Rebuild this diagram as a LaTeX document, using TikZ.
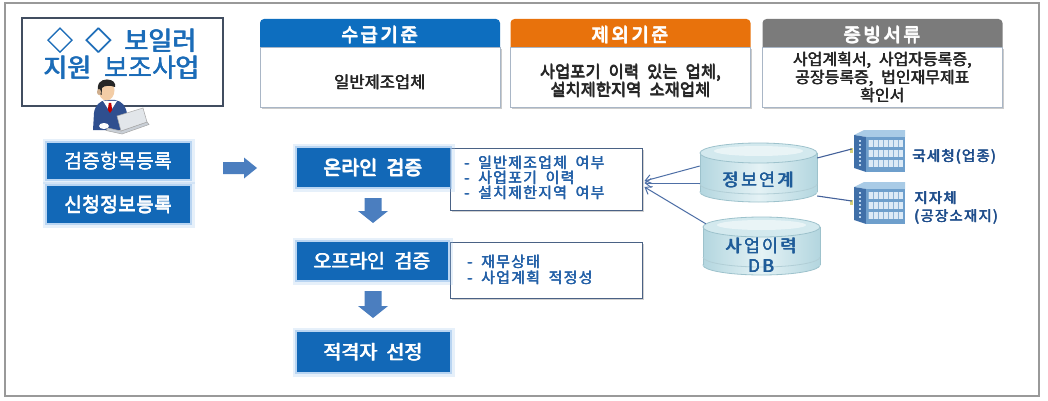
\documentclass[tikz,border=0pt]{standalone}
\usepackage{fontspec}
\setmainfont{Noto Sans CJK KR}
\newfontfamily\krb{Noto Sans CJK KR}
\newfontfamily\krwide{Noto Sans CJK KR}[WordSpace=2.2]
\newfontfamily\krdet{Noto Sans CJK KR}[WordSpace=1.9, LetterSpace=8]
\usetikzlibrary{shadows, arrows.meta}

\newcommand\setfs[2]{\fontsize{#1}{#2}\selectfont}
% heavier strokes: the text is set three times with tiny offsets
\newcommand\hv[1]{\leavevmode\rlap{#1}\rlap{\raisebox{0.45pt}{#1}}\kern0.55pt\relax #1}

\definecolor{boxblue}{HTML}{1268B7}
\definecolor{glowblue}{HTML}{9CC4EE}
\definecolor{hdrblue}{HTML}{0D6EBF}
\definecolor{hdrorange}{HTML}{E8720C}
\definecolor{hdrgrey}{HTML}{7B7B7B}
\definecolor{titleblue}{HTML}{1B6CB8}
\definecolor{titleline}{HTML}{414D60}
\definecolor{bodyline}{HTML}{A9B6C6}
\definecolor{detline}{HTML}{4A6285}
\definecolor{dettext}{HTML}{2461A8}
\definecolor{arrowblue}{HTML}{4B7EBF}
\definecolor{connblue}{HTML}{4E6FA6}
\definecolor{cylside}{HTML}{B3D6DF}
\definecolor{cylmid}{HTML}{E4F2F5}
\definecolor{cyltop}{HTML}{D3E9EE}
\definecolor{cylline}{HTML}{9DC2CC}
\definecolor{cyltext}{HTML}{1F5C99}
\definecolor{labtext}{HTML}{1F4E8C}
\definecolor{suit}{HTML}{2F4F8F}
\definecolor{skin}{HTML}{F3CDA6}
\definecolor{bldtop}{HTML}{A9CBE6}
\definecolor{bldside}{HTML}{3F6FA8}
\definecolor{bldface}{HTML}{6E9FCC}
\definecolor{bldwin}{HTML}{DCEAF6}
\definecolor{bldsep}{HTML}{8DB3D6}
\definecolor{bldspot}{HTML}{B8D3EE}
\definecolor{plug}{HTML}{D9D27A}
\definecolor{lidgrey}{HTML}{E2E6EA}
\definecolor{basegrey}{HTML}{C9CFD6}

\tikzset{
  bluebox/.style={fill=boxblue, text=white, inner sep=0pt,
    font=\krb\setfs{19.5}{22},
    preaction={draw=glowblue, line width=9pt, opacity=0.25},
    preaction={draw=glowblue, line width=4pt, opacity=0.6}},
  hdr/.style={rounded corners=4pt, text=white, inner sep=0pt,
    minimum width=240pt, minimum height=32pt,
    font=\krb\setfs{19}{21}\addfontfeature{LetterSpace=13}},
  bodybox/.style={fill=white, draw=bodyline, line width=0.8pt, inner sep=0pt,
    minimum width=240pt, minimum height=60pt,
    drop shadow={shadow xshift=1.5pt, shadow yshift=-2pt, fill=black!45, opacity=0.45}},
  bodytxt/.style={align=center, text=black!85, inner sep=0pt,
    font=\krwide\setfs{16.5}{18}},
  detbox/.style={fill=white, draw=detline, line width=0.9pt, inner sep=0pt,
    minimum width=192pt,
    drop shadow={shadow xshift=1.5pt, shadow yshift=-2pt, fill=black!45, opacity=0.4}},
  dettxt/.style={align=left, text=dettext, inner sep=0pt, anchor=west,
    font=\krdet\setfs{15}{15}},
  blockarrow/.style={fill=arrowblue},
  conn/.style={draw=connblue, line width=1pt, -{Straight Barb[length=6pt,width=9pt]}},
  wire/.style={draw=suit!90, line width=1.1pt},
  cyltxt/.style={text=cyltext, inner sep=0pt, align=center,
    font=\krb\setfs{17.5}{20}\addfontfeature{LetterSpace=12}},
  labtxt/.style={text=labtext, inner sep=0pt, anchor=west,
    font=\krb\setfs{14.5}{16}\addfontfeature{LetterSpace=8}},
}

% database cylinder: centre, x radius, half height of the body
\newcommand\dbcylinder[4]{%
  \begin{scope}[shift={(#1,#2)}]
    \shade[left color=cylside, right color=cylside, middle color=cylmid, draw=cylline, line width=0.8pt]
      (0,#4) ellipse [x radius=#3, y radius=10];
    \shade[left color=cylside, right color=cylside, middle color=cylmid]
      (-#3,-#4) rectangle (#3,#4);
    \draw[cylline, line width=0.8pt] (-#3,-#4) -- (-#3,#4) (#3,-#4) -- (#3,#4);
    \begin{scope}
      \clip (-#3-2,#4-8) rectangle (#3+2,#4+20);
      \draw[cylline!80, line width=0.8pt] (0,#4-8) ellipse [x radius=#3, y radius=10];
    \end{scope}
    \fill[cyltop, draw=cylline, line width=0.8pt] (0,-#4) ellipse [x radius=#3, y radius=10];
    \fill[white, opacity=0.5] (0,-#4-2) ellipse [x radius=#3-14, y radius=5];
  \end{scope}}

% small office building icon, top left corner given
\newcommand\building[2]{%
  \begin{scope}[shift={(#1,#2)}]
    \fill[bldtop] (2,5) -- (12,0) -- (53,0) -- (53,7) -- (14,7) -- cycle;
    \fill[bldside] (2,5) -- (14,7) -- (14,42) -- (2,38) -- cycle;
    \foreach \k in {0,...,6} \fill[bldspot] (7,10+4*\k) rectangle (9,12+4*\k);
    \fill[bldface] (14,7) rectangle (53,42);
    \foreach \r in {0,1,2} {
      \fill[bldwin] (16,10+10*\r) rectangle (51,17+10*\r);
      \foreach \c in {0,...,6} \draw[bldsep, line width=0.5pt] (16+5*\c,10+10*\r) -- (16+5*\c,17+10*\r);
    }
    \fill[plug] (-2,18) rectangle (1,23);
  \end{scope}}

% downward block arrow: centre x, top y, bottom y
\newcommand\flowdown[3]{%
  \fill[blockarrow] (#1-8.5,#2) -- (#1+8.5,#2) -- (#1+8.5,#3-12) -- (#1+15,#3-12)
    -- (#1,#3) -- (#1-15,#3-12) -- (#1-8.5,#3-12) -- cycle;}

\begin{document}
\begin{tikzpicture}[x=1pt, y=-1pt]
  \useasboundingbox (0,0) rectangle (1048,401);
  \fill[white] (0,0) rectangle (1048,401);
  \draw[black!40, line width=1.2pt] (5,3) rectangle (1039,396);

  % title
  \draw[titleline, line width=2.2pt, fill=white] (22,18) rectangle (223,106);
  \node[text=titleblue, align=center, inner sep=0pt, font=\krb\setfs{26}{27}]
    (title) at (122,53.5) {\hv{◇ ◇ 보일러}\\\hv{지원 보조사업}};

  % person at the laptop
  \begin{scope}
    \fill[suit] (93,130) -- (94,113) .. controls (95,105) and (100,101) .. (106,100)
      -- (115,100) .. controls (122,101) and (126,106) .. (127,114) -- (127,130) -- cycle;
    \fill[white] (103,101) -- (110,112) -- (117,101) -- cycle;
    \fill[red!75!black] (108.8,103) -- (111.2,103) -- (112.2,110) -- (110,113) -- (107.8,110) -- cycle;
    \fill[skin] (106.5,90) ellipse [x radius=8, y radius=10.5];
    \fill[black!85] (98.5,93) .. controls (96,83) and (101,79.5) .. (107,79.5)
      .. controls (113,79.5) and (116,83) .. (115,87) .. controls (110,85) and (104,85.5) .. (102,88)
      -- (101.5,95) -- cycle;
    \fill[skin!85!black] (99,92) ellipse [x radius=2, y radius=3];
    \fill[white] (104,126) ellipse [x radius=5, y radius=3];
    \fill[basegrey, draw=black!35, line width=0.5pt] (108,128) -- (121,131) -- (147,122) -- (149,124.5) -- (122,134) -- (106,130.5) -- cycle;
    \fill[lidgrey, draw=black!35, line width=0.5pt] (117,116) -- (143,108) -- (147,122) -- (121,131) -- cycle;
  \end{scope}

  % criteria panels
  \node[hdr, fill=hdrblue]   (h1) at (380,35)   {\hv{수급기준}};
  \node[hdr, fill=hdrorange] (h2) at (630.5,35) {\hv{제외기준}};
  \node[hdr, fill=hdrgrey]   (h3) at (882.5,35) {\hv{증빙서류}};
  \node[bodybox] (b1) at (380,77.5)   {};
  \node[bodybox] (b2) at (630.5,77.5) {};
  \node[bodybox] (b3) at (882.5,77.5) {};
  \node[bodytxt] (t1) at (380,82.5) {\hv{일반제조업체}};
  \node[bodytxt] (t2) at (630.5,81) {\hv{사업포기 이력 있는 업체,}\\\hv{설치제한지역 소재업체}};
  \node[bodytxt, font=\krwide\setfs{16}{15}]
    (t3) at (882.5,77.5) {\hv{사업계획서, 사업자등록증,}\\\hv{공장등록증, 법인재무제표}\\\hv{확인서}};

  % registration
  \node[bluebox, minimum width=143pt, minimum height=36pt] (reg1) at (118.5,161) {\hv{검증항목등록}};
  \node[bluebox, minimum width=143pt, minimum height=37pt] (reg2) at (118.5,204.5) {\hv{신청정보등록}};
  \fill[blockarrow] (223,162) -- (244,162) -- (244,157.5) -- (257,168) -- (244,178.5)
    -- (244,174) -- (223,174) -- cycle;

  % verification steps
  \node[detbox, minimum height=62pt] (det1) at (546,179) {};
  \node[detbox, minimum height=56pt] (det2) at (546,270) {};
  \node[bluebox, minimum width=153pt, minimum height=39pt] (on)  at (373.5,167.5) {\hv{온라인 검증}};
  \node[bluebox, minimum width=151pt, minimum height=38pt] (off) at (372.5,261) {\hv{오프라인 검증}};
  \node[bluebox, minimum width=153pt, minimum height=40pt] (sel) at (373.5,352) {\hv{적격자 선정}};
  \node[dettxt] (d1) at (464,178)
    {\hv{- 일반제조업체 여부}\\\hv{- 사업포기 이력}\\\hv{- 설치제한지역 여부}};
  \node[dettxt, font=\krdet\setfs{15}{16}]
    (d2) at (467,270) {\hv{- 재무상태}\\\hv{- 사업계획 적정성}};
  \flowdown{373}{198}{223}
  \flowdown{373}{291}{318}

  % data sources
  \dbcylinder{758.5}{172.5}{58.5}{19.5}
  \dbcylinder{761.5}{246}{58.5}{19}
  \node[minimum width=117pt, minimum height=59pt, inner sep=0pt] (link) at (758.5,172.5) {};
  \node[minimum width=117pt, minimum height=58pt, inner sep=0pt] (db) at (761.5,246) {};
  \node[cyltxt] (linkt) at (758.5,180) {\hv{정보연계}};
  \node[cyltxt] (dbt) at (761.5,255) {\hv{사업이력}\\\hv{DB}};

  \building{852}{130}
  \building{852}{182}
  \node[minimum width=54pt, minimum height=42pt, inner sep=0pt] (nts) at (879,151) {};
  \node[minimum width=54pt, minimum height=42pt, inner sep=0pt] (lg) at (879,203) {};
  \node[labtxt] (ntst) at (912,157) {\hv{국세청(업종)}};
  \node[labtxt] (lgt1) at (914,198) {\hv{지자체}};
  \node[labtxt] (lgt2) at (914,217) {\hv{(공장소재지)}};

  \draw[wire] ([yshift=14.5pt]link.east) -- ([yshift=2pt]nts.west);
  \draw[wire] ([yshift=-23.5pt]link.east) -- ([yshift=2pt]lg.west);

  \draw[conn] ([yshift=6.5pt]link.west) -- ([xshift=2pt,yshift=-2pt]det1.east);
  \draw[conn] ([yshift=-10.5pt]link.west) -- ([xshift=2pt,yshift=-4pt]det1.east);
  \draw[conn] ([xshift=3pt,yshift=-7pt]db.north west) -- ([xshift=2pt,yshift=-8pt]det1.east);
\end{tikzpicture}
\end{document}
